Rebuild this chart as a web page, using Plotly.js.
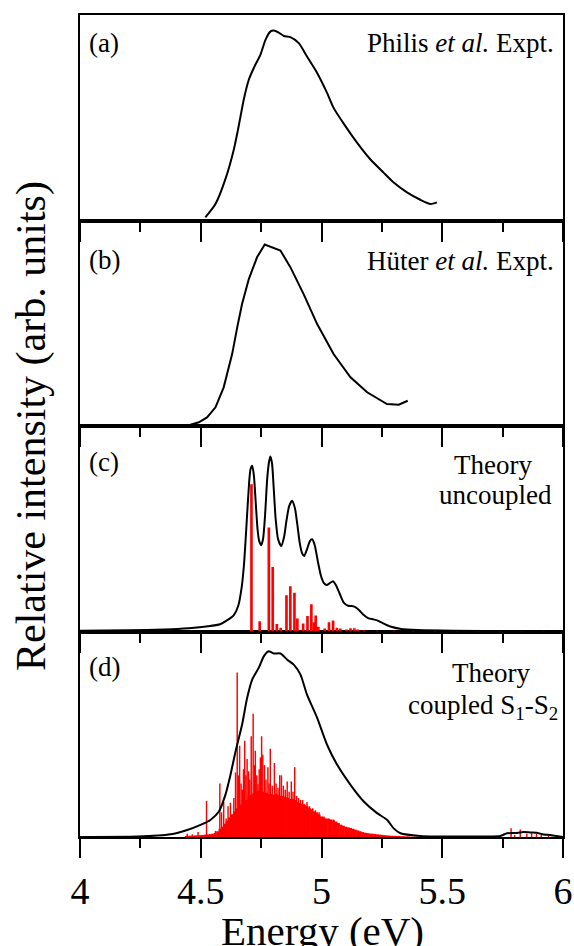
<!DOCTYPE html>
<html><head><meta charset="utf-8">
<script src="https://cdn.plot.ly/plotly-3.0.1.min.js"></script>
<style>html,body{margin:0;padding:0;background:#fff}#chart{width:574px;height:946px}</style>
</head><body><div id="chart"></div><script>
// ---------- data ----------
const tickValues = [4, 4.5, 5, 5.5, 6];
const tickLabels = ['4', '4.5', '5', '5.5', '6'];
const minorTickValues = [4.25, 4.75, 5.25, 5.75];

// (a) Philis et al. experiment
const philisEnergy = [4.519,4.561,4.602,4.637,4.657,4.678,4.699,4.726,4.747,4.768,4.788,4.802,4.823,4.844,4.871,4.906,4.940,4.982,5.023,5.050,5.099,5.147,5.202,5.257,5.299,5.354,5.409,5.451,5.478];
const philisIntensity = [0.015,0.080,0.201,0.346,0.459,0.588,0.685,0.758,0.806,0.879,0.919,0.924,0.914,0.898,0.892,0.863,0.798,0.718,0.621,0.548,0.459,0.379,0.298,0.233,0.185,0.137,0.101,0.080,0.088];

// (b) Hüter et al. experiment
const huterEnergy = [4.457,4.492,4.526,4.561,4.595,4.630,4.651,4.671,4.699,4.733,4.765,4.830,4.871,4.926,4.982,5.050,5.120,5.189,5.271,5.320,5.357];
const huterIntensity = [0.006,0.018,0.042,0.091,0.188,0.350,0.480,0.594,0.715,0.821,0.883,0.854,0.773,0.642,0.496,0.350,0.237,0.164,0.107,0.104,0.123];

// (c) theory, uncoupled: broadened spectrum
const uncoupledEnergy = [4.00,4.20,4.35,4.45,4.53,4.58,4.61,4.637,4.655,4.670,4.680,4.690,4.700,4.706,4.713,4.720,4.727,4.735,4.742,4.750,4.758,4.766,4.775,4.782,4.788,4.795,4.802,4.810,4.820,4.833,4.845,4.855,4.866,4.878,4.890,4.900,4.910,4.920,4.928,4.940,4.952,4.961,4.972,4.985,4.998,5.010,5.022,5.035,5.048,5.060,5.075,5.092,5.110,5.125,5.138,5.155,5.175,5.195,5.215,5.235,5.255,5.285,5.33,5.40,5.55,5.80,6.00];
const uncoupledIntensity = [0.004,0.006,0.010,0.016,0.025,0.035,0.055,0.080,0.124,0.22,0.34,0.53,0.72,0.79,0.807,0.76,0.64,0.50,0.44,0.420,0.45,0.56,0.74,0.82,0.852,0.82,0.70,0.55,0.45,0.416,0.46,0.54,0.61,0.636,0.60,0.52,0.43,0.38,0.367,0.40,0.44,0.449,0.42,0.34,0.27,0.235,0.226,0.236,0.245,0.225,0.185,0.140,0.125,0.124,0.120,0.105,0.080,0.064,0.059,0.052,0.040,0.024,0.012,0.007,0.004,0.002,0.001];

// (c) theory, uncoupled: stick spectrum
const uncoupledStickEnergy = [4.710,4.744,4.782,4.798,4.815,4.831,4.855,4.871,4.888,4.900,4.924,4.942,4.958,4.968,4.976,4.987,5.013,5.031,5.048,5.064,5.078,5.103,5.120,5.136,5.150,5.175,5.23,5.30,5.38,5.47,5.56,5.65,5.74,5.83,5.92];
const uncoupledStickHeight = [0.717,0.050,0.506,0.314,0.037,0.018,0.176,0.220,0.189,0.063,0.039,0.075,0.132,0.045,0.078,0.023,0.015,0.045,0.054,0.018,0.015,0.010,0.016,0.016,0.010,0.006,0.004,0.004,0.003,0.003,0.003,0.003,0.003,0.003,0.003];

// (d) theory, coupled S1-S2: broadened spectrum
const coupledEnergy = [4.00,4.237,4.375,4.444,4.499,4.540,4.575,4.602,4.623,4.644,4.671,4.692,4.713,4.740,4.761,4.781,4.802,4.830,4.858,4.885,4.913,4.940,4.982,5.023,5.065,5.120,5.175,5.230,5.272,5.299,5.327,5.409,5.616,5.740,5.768,5.810,5.837,5.865,5.890,5.920,5.946,6.00];
const coupledIntensity = [0.000,0.002,0.013,0.034,0.059,0.083,0.124,0.205,0.302,0.416,0.546,0.676,0.766,0.823,0.879,0.904,0.893,0.893,0.863,0.839,0.790,0.693,0.580,0.449,0.351,0.254,0.173,0.116,0.083,0.042,0.018,0.005,0.002,0.005,0.018,0.020,0.024,0.022,0.021,0.012,0.010,0.000];

// (d) theory, coupled S1-S2: dense stick envelope
const coupledEnvelopeEnergy = [4.44,4.45,4.46,4.47,4.48,4.49,4.50,4.51,4.52,4.53,4.54,4.55,4.56,4.57,4.58,4.59,4.60,4.61,4.62,4.63,4.64,4.65,4.66,4.67,4.68,4.69,4.70,4.71,4.72,4.73,4.74,4.75,4.76,4.77,4.78,4.79,4.80,4.81,4.82,4.83,4.84,4.85,4.86,4.87,4.88,4.89,4.90,4.91,4.92,4.93,4.94,4.95,4.96,4.97,4.98,4.99,5.00,5.01,5.02,5.03,5.04,5.05,5.06,5.07,5.08,5.09,5.10,5.11,5.12,5.13,5.14,5.15,5.16,5.17,5.18,5.19,5.20,5.21,5.22,5.23,5.24,5.25,5.26,5.27,5.28,5.29,5.30,5.31,5.32,5.33,5.34,5.35,5.36,5.37,5.38,5.39,5.40];
const coupledEnvelopeHeight = [0.005,0.006,0.006,0.007,0.008,0.008,0.009,0.010,0.012,0.012,0.014,0.016,0.020,0.028,0.040,0.050,0.065,0.080,0.095,0.110,0.125,0.140,0.150,0.160,0.170,0.180,0.195,0.205,0.215,0.220,0.225,0.225,0.220,0.215,0.210,0.210,0.205,0.210,0.205,0.200,0.200,0.195,0.190,0.185,0.185,0.180,0.170,0.165,0.160,0.155,0.150,0.140,0.135,0.125,0.120,0.110,0.100,0.095,0.090,0.088,0.085,0.080,0.075,0.068,0.060,0.055,0.050,0.047,0.044,0.040,0.036,0.032,0.028,0.024,0.021,0.019,0.017,0.016,0.015,0.013,0.012,0.010,0.009,0.008,0.007,0.006,0.006,0.005,0.005,0.004,0.004,0.003,0.003,0.002,0.002,0.002,0.002];

// (d) theory, coupled S1-S2: prominent sticks
const coupledSpikeEnergy = [4.444,4.465,4.489,4.524,4.561,4.579,4.586,4.595,4.605,4.613,4.623,4.630,4.637,4.644,4.651,4.656,4.661,4.667,4.672,4.677,4.682,4.687,4.692,4.698,4.703,4.709,4.717,4.722,4.726,4.732,4.737,4.742,4.747,4.752,4.757,4.764,4.770,4.778,4.783,4.788,4.796,4.805,4.812,4.820,4.827,4.834,4.842,4.850,4.858,4.866,4.875,4.882,4.889,4.897,4.905,4.913,4.922,4.930,4.940,4.950,4.963,4.975,4.99,5.01,5.03,5.05,5.785,5.800,5.823,5.85,5.87,5.89,5.91,5.94];
const coupledSpikeHeight = [0.016,0.013,0.024,0.176,0.030,0.260,0.120,0.170,0.090,0.150,0.167,0.110,0.190,0.314,0.800,0.300,0.444,0.260,0.230,0.330,0.468,0.300,0.380,0.320,0.280,0.490,0.600,0.350,0.420,0.300,0.257,0.330,0.387,0.490,0.400,0.350,0.280,0.340,0.260,0.430,0.250,0.360,0.260,0.240,0.300,0.300,0.250,0.230,0.270,0.220,0.270,0.220,0.340,0.200,0.190,0.180,0.180,0.160,0.170,0.150,0.140,0.130,0.120,0.100,0.090,0.085,0.042,0.010,0.037,0.016,0.018,0.016,0.010,0.006];

// ---------- figure ----------
const FONT = 'Liberation Serif, Times New Roman, serif';
const RED = '#ff0000';

function curve(x, y, ax, shape) {
  return {type: 'scatter', mode: 'lines', x: x, y: y, xaxis: 'x' + ax, yaxis: 'y' + ax,
    line: {color: 'black', width: 2, shape: shape || 'linear', smoothing: 0.6}, hoverinfo: 'skip'};
}
function sticks(x, y, ax, w) {
  return {type: 'bar', x: x, y: y, width: w, xaxis: 'x' + ax, yaxis: 'y' + ax,
    marker: {color: RED, line: {width: 0}}, hoverinfo: 'skip'};
}

const traces = [
  curve(philisEnergy, philisIntensity, '4', 'spline'),
  curve(huterEnergy, huterIntensity, '3'),
  sticks(uncoupledStickEnergy, uncoupledStickHeight, '2', 0.011),
  curve(uncoupledEnergy, uncoupledIntensity, '2', 'spline'),
  sticks(coupledEnvelopeEnergy, coupledEnvelopeHeight, '', 0.0125),
  sticks(coupledSpikeEnergy, coupledSpikeHeight, '', 0.006),
  curve(coupledEnergy, coupledIntensity, '', 'spline')
];

function xAxis(anchor, labels) {
  return {
    range: [4, 6], anchor: anchor, domain: [0, 1],
    showline: true, mirror: true, linecolor: 'black', linewidth: 2,
    ticks: 'outside', ticklen: 19, tickwidth: 2, tickcolor: 'black',
    tickmode: 'array', tickvals: tickValues, ticktext: tickLabels,
    minor: {tickmode: 'array', tickvals: minorTickValues, ticks: 'outside', ticklen: 9, tickwidth: 2, tickcolor: 'black', showgrid: false},
    showticklabels: labels, tickfont: {family: FONT, size: 38, color: 'black'},
    showgrid: false, zeroline: false, fixedrange: true
  };
}
function yAxis(anchor, domain) {
  return {
    range: [0, 1], anchor: anchor, domain: domain,
    showline: true, mirror: true, linecolor: 'black', linewidth: 2,
    ticks: '', showticklabels: false, showgrid: false, zeroline: false, fixedrange: true
  };
}

const W = 483, H = 822, L = 80, T = 15;
const px = v => (v - L) / W;
const py = v => (T + H - v) / H;

function note(text, x, y, anchor, size) {
  return {text: text, xref: 'paper', yref: 'paper', x: px(x), y: py(y), xanchor: anchor, yanchor: 'middle',
    showarrow: false, font: {family: FONT, size: size || 27, color: 'black'}};
}

const layout = {
  width: 574, height: 946,
  margin: {l: L, r: 11, t: T, b: 109},
  paper_bgcolor: 'white', plot_bgcolor: 'rgba(0,0,0,0)',
  showlegend: false, barmode: 'overlay',
  xaxis: xAxis('y', true),  yaxis: yAxis('x', [0, 0.25]),
  xaxis2: xAxis('y2', false), yaxis2: yAxis('x2', [0.25, 0.5]),
  xaxis3: xAxis('y3', false), yaxis3: yAxis('x3', [0.5, 0.75]),
  xaxis4: xAxis('y4', false), yaxis4: yAxis('x4', [0.75, 1]),
  annotations: [
    note('(a)', 87, 43, 'left'),
    note('Philis <i>et al.</i> Expt.', 556, 43, 'right'),
    note('(b)', 87, 260, 'left'),
    note('Hüter <i>et al.</i> Expt.', 556, 261, 'right'),
    note('(c)', 87, 462, 'left'),
    note('Theory', 493, 465, 'center'),
    note('uncoupled', 495, 495, 'center'),
    note('(d)', 87, 667, 'left'),
    note('Theory', 491, 673, 'center'),
    note('coupled S<sub>1</sub>-S<sub>2</sub>', 483, 707, 'center'),
    note('Energy (eV)', 322, 931, 'center', 41),
    Object.assign(note('Relative intensity (arb. units)', 31, 426, 'center', 42), {textangle: -90})
  ]
};

Plotly.newPlot('chart', traces, layout, {staticPlot: true, displayModeBar: false});
</script></body></html>
